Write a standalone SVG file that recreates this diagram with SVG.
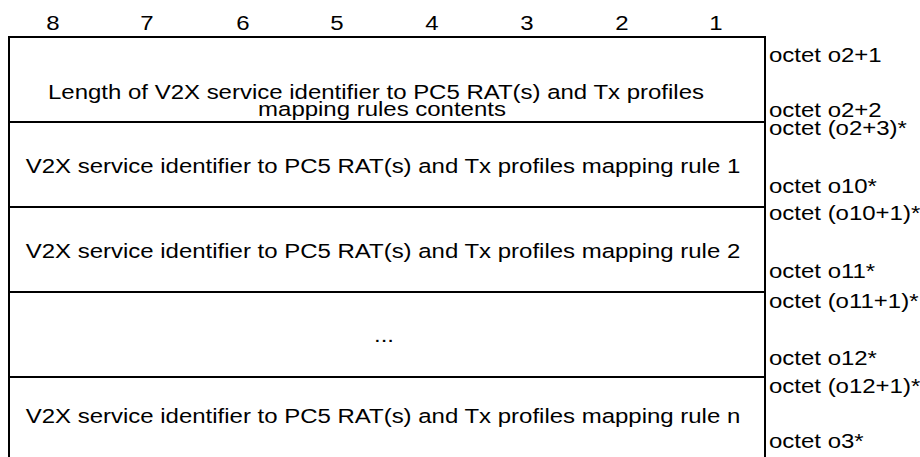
<svg xmlns="http://www.w3.org/2000/svg" width="920" height="457" viewBox="0 0 920 457">
<style>
text{font-family:"Liberation Sans",Arial,sans-serif;font-size:20.5px;fill:#000}
.c{text-anchor:middle}
.ln{stroke:#000;stroke-width:2;fill:none}
</style>
<rect width="920" height="457" fill="#fff"/>
<g id="header">
<text class="c" transform="translate(53,30) scale(1.17,1)">8</text>
<text class="c" transform="translate(147,30) scale(1.17,1)">7</text>
<text class="c" transform="translate(243,30) scale(1.17,1)">6</text>
<text class="c" transform="translate(337,30) scale(1.17,1)">5</text>
<text class="c" transform="translate(432,30) scale(1.17,1)">4</text>
<text class="c" transform="translate(527,30) scale(1.17,1)">3</text>
<text class="c" transform="translate(622,30) scale(1.17,1)">2</text>
<text class="c" transform="translate(716,30) scale(1.17,1)">1</text>
</g>
<g id="frame">
<path class="ln" d="M9,37 H765 M9,122 H765 M9,207 H765 M9,292 H765 M9,377 H765 M9,36 V457 M765,36 V457"/>
</g>
<g id="row1">
<text class="c" transform="translate(376,99) scale(1.17,1)">Length of V2X service identifier to PC5 RAT(s) and Tx profiles</text>
<text class="c" transform="translate(382,116) scale(1.17,1)">mapping rules contents</text>
<text transform="translate(769,62) scale(1.17,1)">octet o2+1</text>
<text transform="translate(769,117) scale(1.17,1)">octet o2+2</text>
</g>
<g id="row2">
<text class="c" transform="translate(383,173) scale(1.17,1)">V2X service identifier to PC5 RAT(s) and Tx profiles mapping rule 1</text>
<text transform="translate(769,135) scale(1.17,1)">octet (o2+3)*</text>
<text transform="translate(769,193) scale(1.17,1)">octet o10*</text>
</g>
<g id="row3">
<text class="c" transform="translate(383,258) scale(1.17,1)">V2X service identifier to PC5 RAT(s) and Tx profiles mapping rule 2</text>
<text transform="translate(769,220) scale(1.17,1)">octet (o10+1)*</text>
<text transform="translate(769,278) scale(1.17,1)">octet o11*</text>
</g>
<g id="row4">
<text class="c" transform="translate(384,342) scale(1.17,1)">...</text>
<text transform="translate(769,308) scale(1.17,1)">octet (o11+1)*</text>
<text transform="translate(769,365) scale(1.17,1)">octet o12*</text>
</g>
<g id="row5">
<text class="c" transform="translate(383,423) scale(1.17,1)">V2X service identifier to PC5 RAT(s) and Tx profiles mapping rule n</text>
<text transform="translate(769,393) scale(1.17,1)">octet (o12+1)*</text>
<text transform="translate(769,448) scale(1.17,1)">octet o3*</text>
</g>
</svg>
